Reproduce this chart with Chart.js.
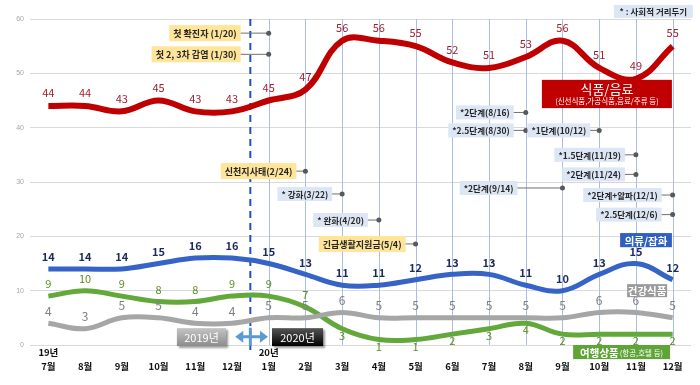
<!DOCTYPE html>
<html>
<head>
<meta charset="utf-8">
<script src="https://cdn.jsdelivr.net/npm/chart.js@4.4.1/dist/chart.umd.min.js"></script>
<style>
body { margin: 0; background: #fff; }
</style>
</head>
<body>
<canvas id="chart" width="700" height="385"></canvas>
<script>
const months = ['7월','8월','9월','10월','11월','12월','1월','2월','3월','4월','5월','6월','7월','8월','9월','10월','11월','12월'];
const yearMarks = ['19년','','','','','','20년','','','','','','','','','','',''];
const food = [44,44,43,45,43,43,45,47,56,56,55,52,51,53,56,51,49,55];
const clothing = [14,14,14,15,16,16,15,13,11,11,12,13,13,11,10,13,15,12];
const health = [4,3,5,5,4,4,5,5,6,5,5,5,5,5,5,6,6,5];
const travel = [9,10,9,8,8,9,9,7,3,1,1,2,3,4,2,2,2,2];

const KR = '"Noto Sans CJK KR", "Noto Sans", sans-serif';

// event / distancing callouts: anchored at category index + value
const callouts = [
    {text: '첫 확진자 (1/20)', cat: 6, val: 57.4, gap: 28, kind: 'event'},
    {text: '첫 2, 3차 감염 (1/30)', cat: 6, val: 53.5, gap: 28, kind: 'event'},
    {text: '신천지사태(2/24)', cat: 7, val: 32.0, gap: 9, kind: 'event'},
    {text: '* 강화(3/22)', cat: 8, val: 27.8, gap: 10, kind: 'dist'},
    {text: '* 완화(4/20)', cat: 9, val: 23.0, gap: 11, kind: 'dist'},
    {text: '긴급생활지원금(5/4)', cat: 10, val: 18.6, gap: 10, kind: 'event'},
    {text: '*2단계(8/16)', cat: 13, val: 42.8, gap: 12, kind: 'dist'},
    {text: '*2.5단계(8/30)', cat: 13, val: 39.5, gap: 12, kind: 'dist'},
    {text: '*1단계(10/12)', cat: 15, val: 39.5, gap: 9, kind: 'dist'},
    {text: '*2단계(9/14)', cat: 14, val: 28.9, gap: 45, kind: 'dist'},
    {text: '*1.5단계(11/19)', cat: 16, val: 35.0, gap: 11, kind: 'dist'},
    {text: '*2단계(11/24)', cat: 16, val: 31.4, gap: 11, kind: 'dist'},
    {text: '*2단계+알파(12/1)', cat: 17, val: 27.6, gap: 11, kind: 'dist'},
    {text: '*2.5단계(12/6)', cat: 17, val: 24.0, gap: 11, kind: 'dist'}
];

const labelStyles = [
    {color: '#a01f2f', font: '11px ' + KR, dy: i => -13},
    {color: '#1f2a5c', font: 'bold 11px ' + KR, dy: i => -12},
    {color: '#7f7f7f', font: '12px ' + KR, dy: i => -12},
    {color: '#5b8c23', font: '11px ' + KR, dy: i => i < 8 ? -12 : 7}
];

function box(chart, x0, x1, y0, y1) {
    const {x, y} = chart.scales;
    const px0 = x.getPixelForValue(x0), px1 = x.getPixelForValue(x1);
    const py0 = y.getPixelForValue(y0), py1 = y.getPixelForValue(y1);
    return {l: px0, t: py0, w: px1 - px0, h: py1 - py0, cx: (px0 + px1) / 2, cy: (py0 + py1) / 2};
}

const decor = {
    id: 'decor',
    beforeDatasetsDraw(chart) {
        const {ctx, scales: {x, y}} = chart;
        ctx.save();
        ctx.strokeStyle = '#a9bde6';
        ctx.lineWidth = 1;
        for (let i = 6; i < months.length; i++) {
            const px = Math.round(x.getPixelForValue(i)) + 0.5;
            ctx.beginPath();
            ctx.moveTo(px, y.getPixelForValue(60));
            ctx.lineTo(px, y.getPixelForValue(0));
            ctx.stroke();
        }
        // 2019 / 2020 separator
        ctx.strokeStyle = '#1f4fd0';
        ctx.lineWidth = 2;
        ctx.setLineDash([7, 5]);
        const sx = x.getPixelForValue(5.5);
        ctx.beginPath();
        ctx.moveTo(sx, y.getPixelForValue(60));
        ctx.lineTo(sx, y.getPixelForValue(-1));
        ctx.stroke();
        ctx.restore();
    },
    afterDatasetsDraw(chart) {
        const ctx = chart.ctx;
        ctx.save();
        ctx.textAlign = 'center';
        ctx.textBaseline = 'middle';
        chart.data.datasets.forEach((ds, di) => {
            const st = labelStyles[di];
            ctx.fillStyle = st.color;
            ctx.font = st.font;
            chart.getDatasetMeta(di).data.forEach((pt, i) => {
                ctx.fillText(String(ds.data[i]), pt.x, pt.y + st.dy(i));
            });
        });
        ctx.restore();
    },
    afterDraw(chart) {
        const {ctx, scales: {x, y}} = chart;
        ctx.save();
        ctx.textAlign = 'center';
        ctx.textBaseline = 'middle';

        // callouts
        for (const c of callouts) {
            const ev = c.kind === 'event';
            ctx.font = (ev ? 'bold 9px ' : 'bold 8.5px ') + KR;
            const w = ctx.measureText(c.text).width + 8;
            const h = ev ? 16 : 14;
            const dx = x.getPixelForValue(c.cat), dy = y.getPixelForValue(c.val);
            const bx1 = dx - c.gap, bx0 = bx1 - w;
            ctx.fillStyle = ev ? '#fee599' : '#dce6f4';
            ctx.fillRect(bx0, dy - h / 2, w, h);
            ctx.fillStyle = '#262626';
            ctx.fillText(c.text, (bx0 + bx1) / 2, dy + 0.5);
            ctx.strokeStyle = '#707070';
            ctx.lineWidth = 1;
            ctx.beginPath();
            ctx.moveTo(bx1, dy);
            ctx.lineTo(dx, dy);
            ctx.stroke();
            ctx.fillStyle = '#595959';
            ctx.beginPath();
            ctx.arc(dx, dy, 2.5, 0, Math.PI * 2);
            ctx.fill();
        }

        // note top right
        let b = box(chart, 15.4, 17.55, 62.6, 60.2);
        ctx.fillStyle = '#dce6f4';
        ctx.fillRect(b.l, b.t, b.w, b.h);
        ctx.fillStyle = '#262626';
        ctx.font = 'bold 8.5px ' + KR;
        ctx.fillText('* : 사회적 거리두기', b.cx, b.cy + 0.5);

        // series tags
        b = box(chart, 13.44, 16.98, 48.8, 43.6);
        ctx.fillStyle = '#c00000';
        ctx.fillRect(b.l, b.t, b.w, b.h);
        ctx.fillStyle = '#fff';
        ctx.font = '13px ' + KR;
        ctx.fillText('식품/음료', b.cx, b.t + 9);
        ctx.font = '7.5px ' + KR;
        ctx.fillText('(신선식품,가공식품,음료/주류 등)', b.cx, b.t + 21);

        b = box(chart, 15.57, 16.98, 20.6, 18.0);
        ctx.fillStyle = '#2f5fc0';
        ctx.fillRect(b.l, b.t, b.w, b.h);
        ctx.fillStyle = '#fff';
        ctx.font = 'bold 10.5px ' + KR;
        ctx.fillText('의류/잡화', b.cx, b.cy + 0.5);

        b = box(chart, 15.76, 16.85, 11.2, 8.8);
        ctx.fillStyle = '#9a9a9a';
        ctx.fillRect(b.l, b.t, b.w, b.h);
        ctx.fillStyle = '#fff';
        ctx.font = 'bold 10.5px ' + KR;
        ctx.fillText('건강식품', b.cx, b.cy + 0.5);

        b = box(chart, 14.29, 16.93, 0, -2.6);
        ctx.fillStyle = '#5ea436';
        ctx.fillRect(b.l, b.t, b.w, b.h);
        ctx.fillStyle = '#fff';
        ctx.textAlign = 'left';
        ctx.font = 'bold 10.5px ' + KR;
        const t1 = '여행상품', t2 = '(항공,호텔 등)';
        const w1 = ctx.measureText(t1).width;
        ctx.font = '7.5px ' + KR;
        const w2 = ctx.measureText(t2).width;
        const sx = b.cx - (w1 + w2 + 1) / 2;
        ctx.font = 'bold 10.5px ' + KR;
        ctx.fillText(t1, sx, b.cy + 0.5);
        ctx.font = '7.5px ' + KR;
        ctx.fillText(t2, sx + w1 + 1, b.cy + 1.5);
        ctx.textAlign = 'center';

        // year boxes
        const years = [['2019년', 3.50, 4.84, ['#c4c4c4', '#8c8c8c']], ['2020년', 6.09, 7.48, ['#555555', '#000000']]];
        for (const [t, a0, a1, cols] of years) {
            b = box(chart, a0, a1, 3.1, -0.2);
            const g = ctx.createLinearGradient(0, b.t, 0, b.t + b.h);
            g.addColorStop(0, cols[0]);
            g.addColorStop(1, cols[1]);
            ctx.save();
            ctx.shadowColor = 'rgba(0,0,0,0.4)';
            ctx.shadowOffsetX = 2;
            ctx.shadowOffsetY = 2;
            ctx.shadowBlur = 2;
            ctx.fillStyle = g;
            ctx.fillRect(b.l, b.t, b.w, b.h);
            ctx.restore();
            ctx.fillStyle = '#fff';
            ctx.font = '11px ' + KR;
            ctx.fillText(t, b.cx, b.cy + 0.5);
        }

        // double arrow
        const ax0 = x.getPixelForValue(5.09), ax1 = x.getPixelForValue(5.98), ay = y.getPixelForValue(1.5);
        const mx = x.getPixelForValue(5.5);
        ctx.strokeStyle = '#5b9bd5';
        ctx.fillStyle = '#5b9bd5';
        ctx.lineWidth = 3;
        ctx.beginPath();
        ctx.moveTo(ax0 + 6, ay);
        ctx.lineTo(ax1 - 6, ay);
        ctx.moveTo(mx, ay - 9);
        ctx.lineTo(mx, ay + 9);
        ctx.stroke();
        ctx.beginPath();
        ctx.moveTo(ax0, ay);
        ctx.lineTo(ax0 + 8, ay - 6);
        ctx.lineTo(ax0 + 8, ay + 6);
        ctx.closePath();
        ctx.moveTo(ax1, ay);
        ctx.lineTo(ax1 - 8, ay - 6);
        ctx.lineTo(ax1 - 8, ay + 6);
        ctx.closePath();
        ctx.fill();
        ctx.restore();
    }
};

const lineSet = (data, color, width) => ({
    data: data,
    borderColor: color,
    borderWidth: width,
    pointRadius: 0,
    tension: 0.4,
    fill: false
});

let chart = document.getElementById('chart').getContext('2d');
let lineChart = new Chart(chart, {
    type: 'line',
    data: {
        labels: months.map((m, i) => [yearMarks[i], m]),
        datasets: [
            lineSet(food, '#c00000', 6),
            lineSet(clothing, '#3564c6', 5),
            lineSet(health, '#a6a6a6', 5),
            lineSet(travel, '#62a83a', 5)
        ]
    },
    options: {
        responsive: false,
        animation: false,
        devicePixelRatio: 1,
        layout: {padding: {top: 19, right: 9, left: 0, bottom: 0}},
        plugins: {legend: {display: false}, tooltip: {enabled: false}},
        scales: {
            x: {
                offset: true,
                grid: {display: false, drawTicks: false},
                border: {display: false},
                ticks: {
                    autoSkip: false,
                    maxRotation: 0,
                    color: '#111',
                    padding: 1,
                    font: {family: KR, size: 9.5, weight: 'bold', lineHeight: 1.45}
                },
                afterFit: s => { s.height = 40; }
            },
            y: {
                min: 0,
                max: 60,
                grid: {color: '#d9d9d9', drawTicks: false},
                border: {display: false},
                ticks: {stepSize: 10, color: '#a6a6a6', padding: 6, font: {size: 7}},
                afterFit: s => { s.width = 30; }
            }
        }
    },
    plugins: [decor]
});
</script>
</body>
</html>
